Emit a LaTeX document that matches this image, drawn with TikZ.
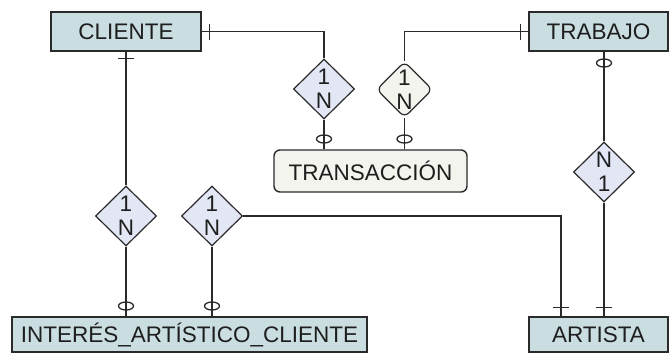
\documentclass[tikz,border=0pt]{standalone}
\usepackage{fontspec}
\setmainfont{Liberation Sans}
\usetikzlibrary{shapes.geometric}
\definecolor{entfill}{HTML}{CADDE1}
\definecolor{relfill}{HTML}{E3E6F5}
\definecolor{weakfill}{HTML}{F3F4EE}
\definecolor{lncol}{HTML}{2A2A2A}
\definecolor{txcol}{HTML}{1E1E1E}
\begin{document}
\begin{tikzpicture}[x=1pt,y=-1pt,
  every node/.style={font=\fontsize{22.5}{27}\selectfont, text=txcol},
  entity/.style={draw=lncol, line width=1.4pt, fill=entfill, rectangle, inner sep=0pt},
  weakent/.style={draw=lncol, line width=1.4pt, fill=weakfill, rectangle, rounded corners=6pt, inner sep=0pt},
  relbox/.style={draw=lncol, line width=1.2pt, fill=relfill, diamond, inner sep=0pt, minimum width=61pt, minimum height=60pt},
  weakrel/.style={draw=lncol, line width=1.2pt, fill=weakfill, diamond, inner sep=0pt, minimum width=56pt, minimum height=56pt, rounded corners=6pt},
  conn/.style={draw=lncol, line width=1.4pt},
  omark/.style={draw=lncol, line width=1.3pt, ellipse, inner sep=0pt, minimum width=15pt, minimum height=8pt},
  tickmark/.style={draw=lncol, line width=1.4pt}
]
\useasboundingbox (0,0) rectangle (669,354);

% entities
\node[entity, minimum width=150pt, minimum height=39pt] (cli) at (126,31.5) {CLIENTE};
\node[entity, minimum width=139pt, minimum height=39pt] (trab) at (598.5,31.5) {TRABAJO};
\node[entity, minimum width=355pt, minimum height=35pt] (inter) at (189.5,334.5) {INTERÉS\_ARTÍSTICO\_CLIENTE};
\node[entity, minimum width=139pt, minimum height=35pt] (art) at (598.5,334.5) {ARTISTA};
\node[weakent, minimum width=193pt, minimum height=42pt] (trans) at (370.5,171) {TRANSACCIÓN};

% relationships
\node[relbox] (r1) at (324,89) {};
\node[weakrel] (r2) at (404.5,89.5) {};
\node[relbox] (r3) at (604,172) {};
\node[relbox] (r4) at (126,216) {};
\node[relbox] (r5) at (212,216) {};

\node at ([yshift=12pt]r1.center) {1};
\node at ([yshift=-12pt]r1.center) {N};
\node at ([yshift=12pt]r2.center) {1};
\node at ([yshift=-12pt]r2.center) {N};
\node at ([yshift=12pt]r3.center) {N};
\node at ([yshift=-12pt]r3.center) {1};
\node at ([yshift=12pt]r4.center) {1};
\node at ([yshift=-12pt]r4.center) {N};
\node at ([yshift=12pt]r5.center) {1};
\node at ([yshift=-12pt]r5.center) {N};

% connectors
\coordinate (c1) at (r1.north |- cli.east);
\coordinate (c2) at (r2.north |- trab.west);
\coordinate (c3) at (r5.east -| 561,0);
\draw[conn] (cli.east) -- (c1) -- (r1.north);
\draw[conn] (r1.south) -- (r1.south |- trans.north);
\draw[conn] (r2.north) -- (c2) -- (trab.west);
\draw[conn] (r2.south) -- (r2.south |- trans.north);
\draw[conn] (r3.north |- trab.south) -- (r3.north);
\draw[conn] (r3.south) -- (r3.south |- art.north);
\draw[conn] (r4.north |- cli.south) -- (r4.north);
\draw[conn] (r4.south) -- (r4.south |- inter.north);
\draw[conn] (r5.south) -- (r5.south |- inter.north);
\draw[conn] (r5.east) -- (c3) -- (c3 |- art.north);

% cardinality marks
\draw[tickmark] ([xshift=8pt]cli.east) ++(0,-8) -- ++(0,16);
\draw[tickmark] ([xshift=-8pt]trab.west) ++(0,-8) -- ++(0,16);
\draw[tickmark] (cli.south -| r4.north) ++(-8,7) -- ++(16,0);
\draw[tickmark] (art.north -| r3.south) ++(-8,-9) -- ++(16,0);
\draw[tickmark] (art.north -| c3) ++(-8,-9) -- ++(16,0);
\node[omark] (o1) at (324,139) {};
\node[omark] (o2) at (404.5,139) {};
\node[omark] (o3) at (604,63) {};
\node[omark] (o4) at (126,306) {};
\node[omark] (o5) at (212,306) {};
\end{tikzpicture}
\end{document}
